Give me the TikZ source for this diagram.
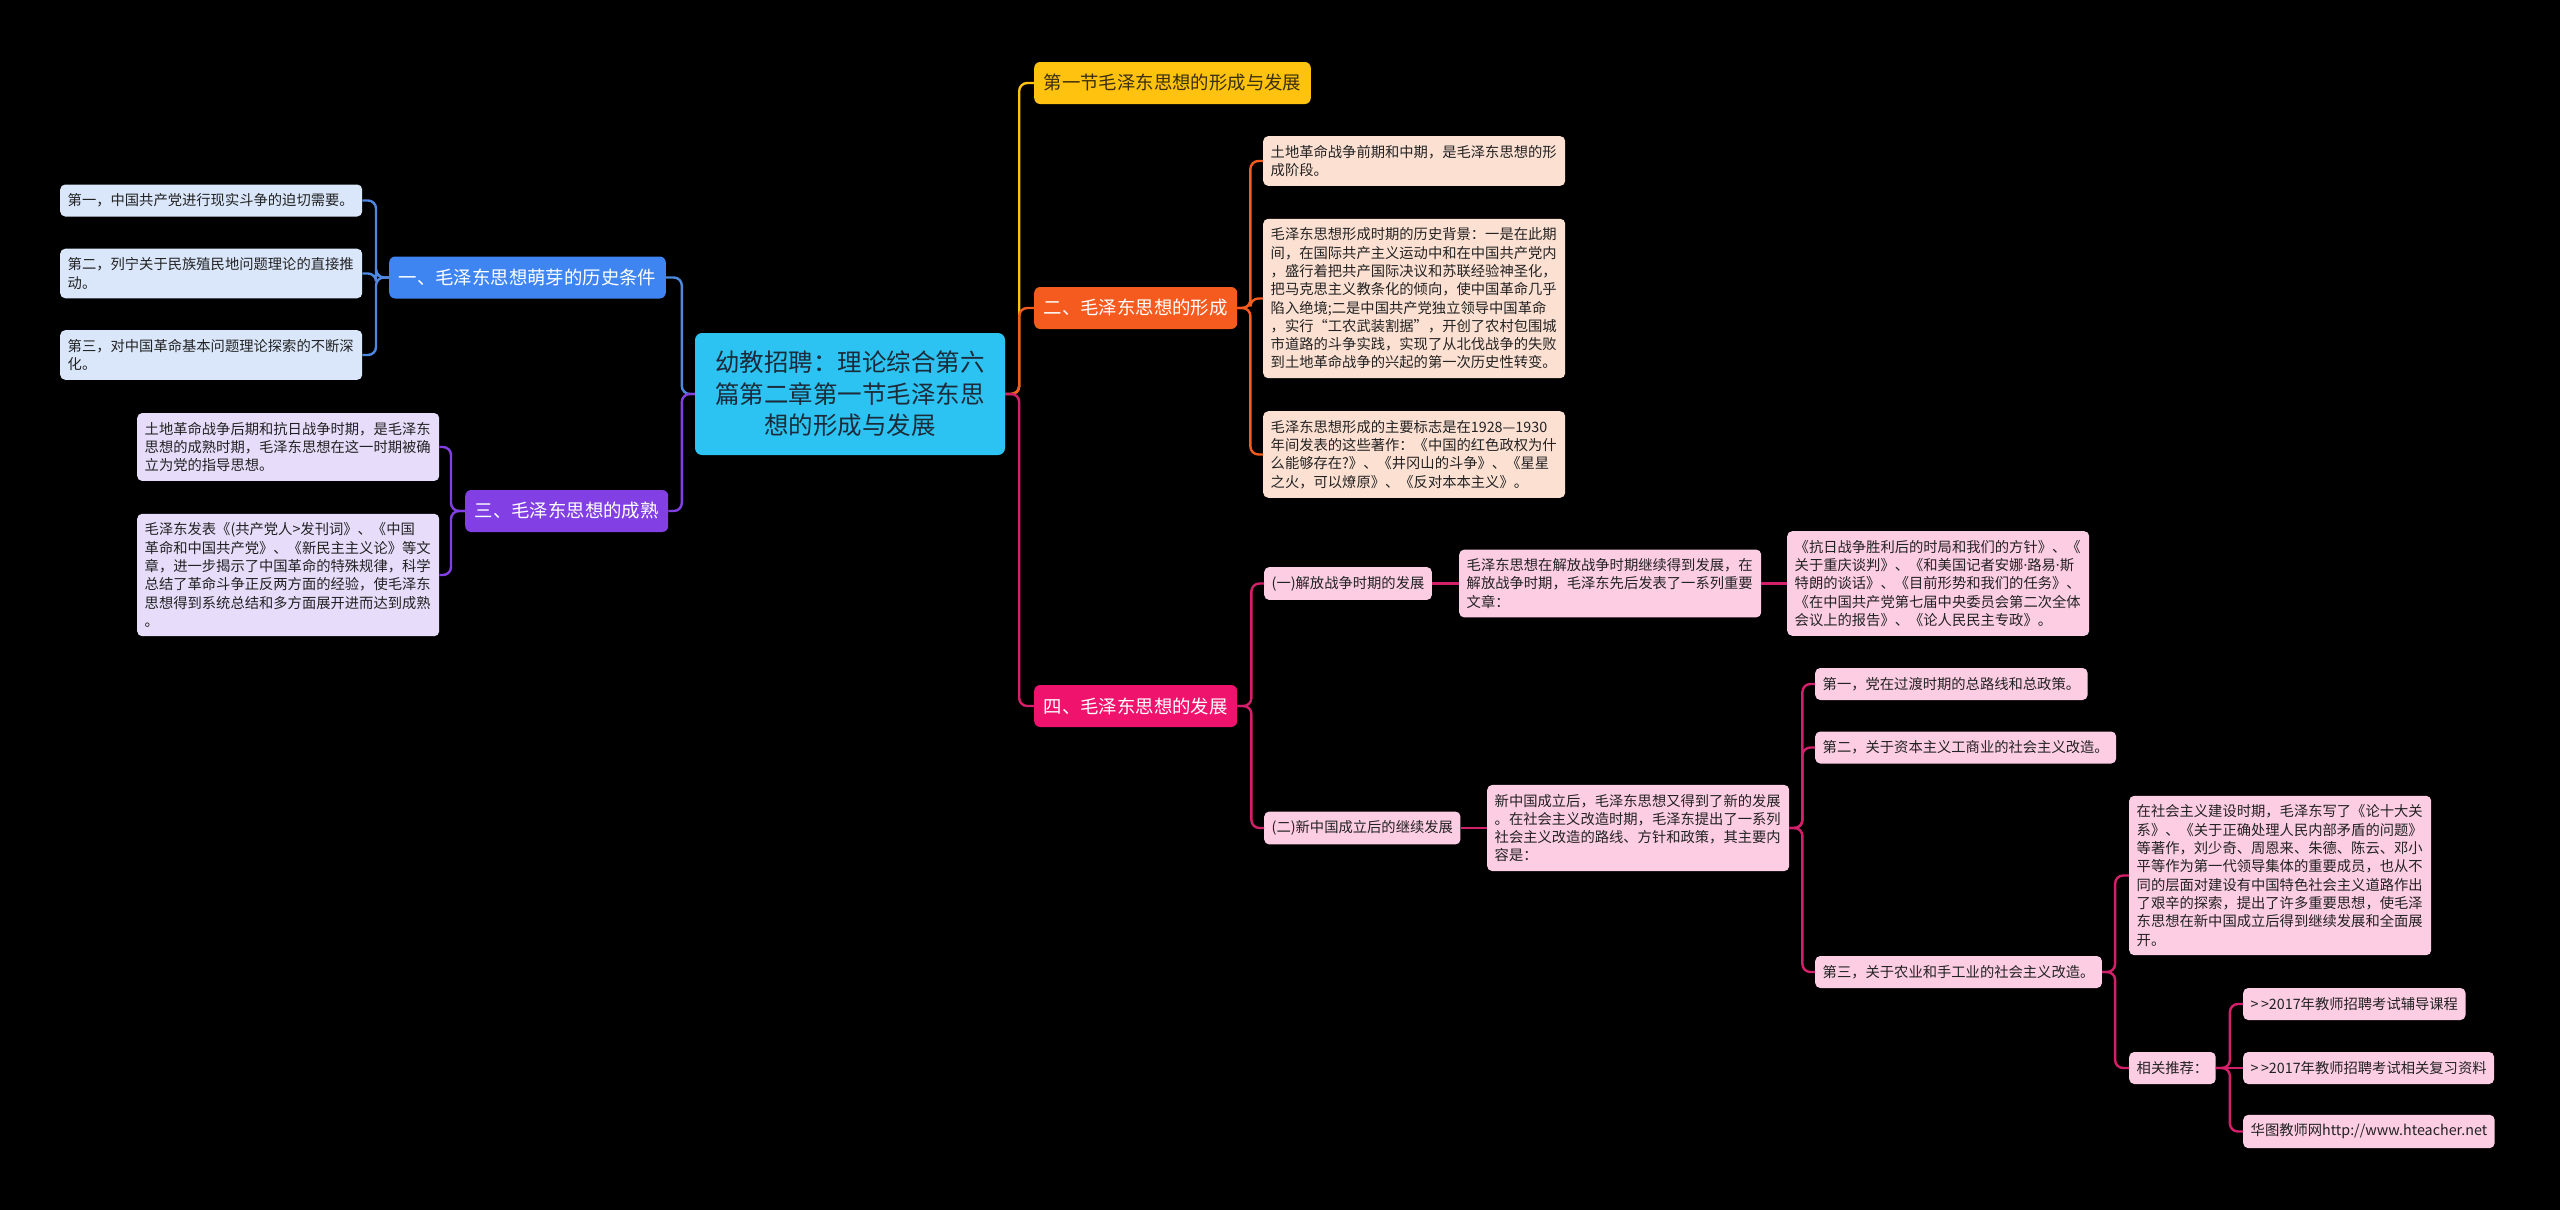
\documentclass[tikz,border=0pt]{standalone}
\usepackage{fontspec}
\setmainfont{Noto Sans CJK SC}
\newfontfamily\latinfont{Noto Sans}
\definecolor{rootfill}{HTML}{2CC3F2}
\definecolor{roottext}{HTML}{1B2B3A}
\definecolor{bluefill}{HTML}{3F85F2}
\definecolor{bluelink}{HTML}{4E88E0}
\definecolor{bluelight}{HTML}{DAE7FB}
\definecolor{purplefill}{HTML}{8240E4}
\definecolor{purplelight}{HTML}{E7DDFB}
\definecolor{goldfill}{HTML}{FFC20F}
\definecolor{goldtext}{HTML}{3A2F10}
\definecolor{orangefill}{HTML}{F55A1E}
\definecolor{peachlight}{HTML}{FCE1D3}
\definecolor{magentafill}{HTML}{F0136E}
\definecolor{magentalink}{HTML}{D4206A}
\definecolor{pinklight}{HTML}{FCCDE3}
\definecolor{leaftext}{HTML}{222222}
\begin{document}
\begin{tikzpicture}[
  x=1pt, y=-1pt,
  base/.style={rounded corners=5pt, anchor=west, inner xsep=7.5pt, inner ysep=9pt, minimum height=32pt, text=leaftext, font=\fontsize{14.3}{18.3}\selectfont},
  leaf/.style={base, align=left, text width=287pt},
  tag/.style={base},
  topic/.style={rounded corners=6pt, anchor=west, inner xsep=9.5pt, minimum height=42pt, text=white, font=\fontsize{18.4}{22}\selectfont},
  link/.style={line width=2.4pt, rounded corners=8pt}
]
\fill[black] (0,0) rectangle (2560,1210);
\useasboundingbox (0,0) rectangle (2560,1210);

\node[rounded corners=7pt, fill=rootfill, text=roottext, align=center, text width=271pt, inner xsep=19.5pt, inner ysep=4pt, minimum height=122pt, font=\fontsize{24.5}{31.7}\selectfont] (root) at (850,394) {幼教招聘：理论综合第六\\篇第二章第一节毛泽东思\\想的形成与发展};

\node[topic, fill=bluefill] (b1) at (389,277.5) {一、毛泽东思想萌芽的历史条件};
\node[leaf, fill=bluelight] (l1a) at (60,200.5) {第一，中国共产党进行现实斗争的迫切需要。};
\node[leaf, fill=bluelight] (l1b) at (60,273.5) {第二，列宁关于民族殖民地问题理论的直接推\\动。};
\node[leaf, fill=bluelight] (l1c) at (60,355) {第三，对中国革命基本问题理论探索的不断深\\化。};

\node[topic, fill=purplefill] (b3) at (465,511) {三、毛泽东思想的成熟};
\node[leaf, fill=purplelight] (l3a) at (137,447) {土地革命战争后期和抗日战争时期，是毛泽东\\思想的成熟时期，毛泽东思想在这一时期被确\\立为党的指导思想。};
\node[leaf, fill=purplelight] (l3b) at (137,575) {毛泽东发表《(共产党人{>}发刊词》、《中国\\革命和中国共产党》、《新民主主义论》等文\\章，进一步揭示了中国革命的特殊规律，科学\\总结了革命斗争正反两方面的经验，使毛泽东\\思想得到系统总结和多方面展开进而达到成熟\\。};

\node[topic, fill=goldfill, text=goldtext] (b0) at (1034,83) {第一节毛泽东思想的形成与发展};

\node[topic, fill=orangefill] (b2) at (1034,308) {二、毛泽东思想的形成};
\node[leaf, fill=peachlight] (r2a) at (1263,161) {土地革命战争前期和中期，是毛泽东思想的形\\成阶段。};
\node[leaf, fill=peachlight] (r2b) at (1263,298.5) {毛泽东思想形成时期的历史背景：一是在此期\\间，在国际共产主义运动中和在中国共产党内\\，盛行着把共产国际决议和苏联经验神圣化，\\把马克思主义教条化的倾向，使中国革命几乎\\陷入绝境;二是中国共产党独立领导中国革命\\，实行“工农武装割据”，开创了农村包围城\\市道路的斗争实践，实现了从北伐战争的失败\\到土地革命战争的兴起的第一次历史性转变。};
\node[leaf, fill=peachlight] (r2c) at (1263,454.5) {毛泽东思想形成的主要标志是在1928—1930\\年间发表的这些著作：《中国的红色政权为什\\么能够存在?》、《井冈山的斗争》、《星星\\之火，可以燎原》、《反对本本主义》。};

\node[topic, fill=magentafill] (b4) at (1034,706) {四、毛泽东思想的发展};
\node[tag, fill=pinklight] (s1) at (1264,583.5) {(一)解放战争时期的发展};
\node[leaf, fill=pinklight] (s1a) at (1459,583.5) {毛泽东思想在解放战争时期继续得到发展，在\\解放战争时期，毛泽东先后发表了一系列重要\\文章：};
\node[leaf, fill=pinklight] (s1b) at (1787,583.5) {《抗日战争胜利后的时局和我们的方针》、《\\关于重庆谈判》、《和美国记者安娜{\latinfont ·}路易{\latinfont ·}斯\\特朗的谈话》、《目前形势和我们的任务》、\\《在中国共产党第七届中央委员会第二次全体\\会议上的报告》、《论人民民主专政》。};
\node[tag, fill=pinklight] (s2) at (1264,828) {(二)新中国成立后的继续发展};
\node[leaf, fill=pinklight] (s2a) at (1487,828) {新中国成立后，毛泽东思想又得到了新的发展\\。在社会主义改造时期，毛泽东提出了一系列\\社会主义改造的路线、方针和政策，其主要内\\容是：};
\node[tag, fill=pinklight] (t1) at (1815,684) {第一，党在过渡时期的总路线和总政策。};
\node[tag, fill=pinklight] (t2) at (1815,747.5) {第二，关于资本主义工商业的社会主义改造。};
\node[tag, fill=pinklight] (t3) at (1815,972) {第三，关于农业和手工业的社会主义改造。};
\node[leaf, fill=pinklight] (t3a) at (2129,875.5) {在社会主义建设时期，毛泽东写了《论十大关\\系》、《关于正确处理人民内部矛盾的问题》\\等著作，刘少奇、周恩来、朱德、陈云、邓小\\平等作为第一代领导集体的重要成员，也从不\\同的层面对建设有中国特色社会主义道路作出\\了艰辛的探索，提出了许多重要思想，使毛泽\\东思想在新中国成立后得到继续发展和全面展\\开。};
\node[tag, fill=pinklight] (t3b) at (2129,1068) {相关推荐：};
\node[tag, fill=pinklight] (u1) at (2243,1004) {{>}\,{>}2017年教师招聘考试辅导课程};
\node[tag, fill=pinklight] (u2) at (2243,1068) {{>}\,{>}2017年教师招聘考试相关复习资料};
\node[tag, fill=pinklight] (u3) at (2243,1131.5) {华图教师网http://www.hteacher.net};

\draw[link, bluelink] (root.west) -- ++(-13,0) |- (b1.east);
\draw[link, purplefill] (root.west) -- ++(-13,0) |- (b3.east);
\foreach \n in {l1a,l1b,l1c}
  \draw[link, bluelink] (b1.west) -- ++(-13,0) |- (\n.east);
\foreach \n in {l3a,l3b}
  \draw[link, purplefill] (b3.west) -- ++(-14,0) |- (\n.east);

\draw[link, goldfill] (root.east) -- ++(14,0) |- (b0.west);
\draw[link, orangefill] (root.east) -- ++(14,0) |- (b2.west);
\draw[link, magentalink] (root.east) -- ++(14,0) |- (b4.west);
\foreach \n in {r2a,r2b,r2c}
  \draw[link, orangefill] (b2.east) -- ++(13,0) |- (\n.west);

\foreach \n in {s1,s2}
  \draw[link, magentalink] (b4.east) -- ++(14,0) |- (\n.west);
\draw[link, magentalink] (s1.east) -- (s1a.west);
\draw[link, magentalink] (s1a.east) -- (s1b.west);
\draw[link, magentalink] (s2.east) -- (s2a.west);
\foreach \n in {t1,t2,t3}
  \draw[link, magentalink] (s2a.east) -- ++(13,0) |- (\n.west);
\foreach \n in {t3a,t3b}
  \draw[link, magentalink] (t3.east) -- ++(13,0) |- (\n.west);
\foreach \n in {u1,u3}
  \draw[link, magentalink] (t3b.east) -- ++(14,0) |- (\n.west);
\draw[link, magentalink] (t3b.east) -- (u2.west);
\end{tikzpicture}
\end{document}
